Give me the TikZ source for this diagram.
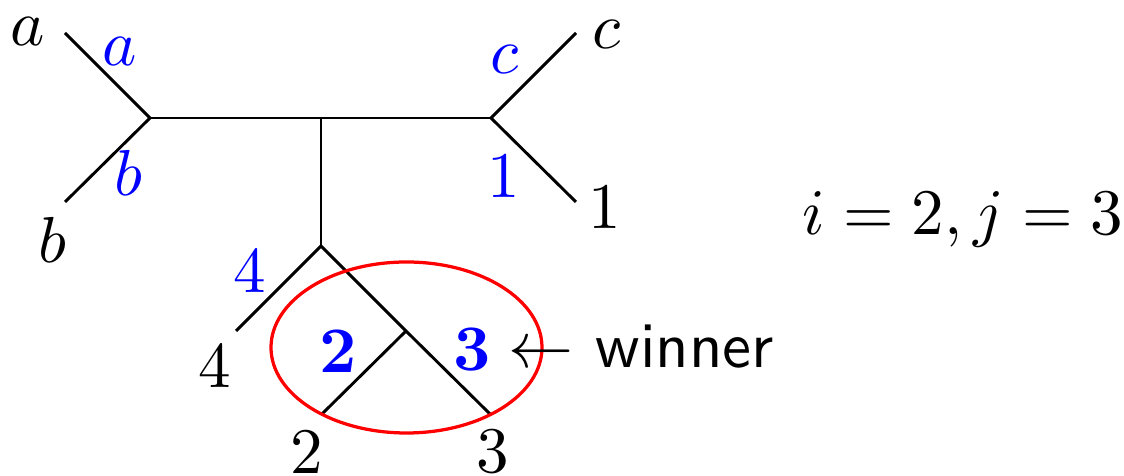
\documentclass[tikz,border=0pt]{standalone}
\begin{document}
\begin{tikzpicture}[x=0.1538pt,y=-0.1538pt,
  edge/.style={line width=0.45pt,black},
  lbl/.style={inner sep=0pt,outer sep=0pt},
  wl/.style={lbl,text=blue}]
\useasboundingbox (0,0) rectangle (1124,476);
% tree vertices
\coordinate (L) at (150,118);
\coordinate (M) at (321,118);
\coordinate (R) at (491,118);
\coordinate (D) at (321,246);
\coordinate (E) at (406,331);
\coordinate (la) at (65,33);
\coordinate (lb) at (65,202);
\coordinate (lc) at (576,33);
\coordinate (l1) at (576,202);
\coordinate (l4) at (236,331);
\coordinate (l2) at (322,414);
\coordinate (l3) at (490,414);
% edges
\draw[edge] (la) -- (L) -- (lb);
\draw[edge] (L) -- (M) -- (R);
\draw[edge] (lc) -- (R) -- (l1);
\draw[edge] (M) -- (D);
\draw[edge] (l4) -- (D) -- (E) -- (l3);
\draw[edge] (E) -- (l2);
% red ellipse
\draw[red,line width=0.5pt] (406.5,347.5) ellipse [x radius=135.5, y radius=85.5];
% leaf labels
\node[lbl] (ta) at (28,32) {$a$};
\node[lbl] (tb) at (52,240) {$b$};
\node[lbl] (tc) at (607,35) {$c$};
\node[lbl] (t1) at (605,208) {$1$};
\node[lbl] (t4) at (215,367) {$4$};
\node[lbl] (t2) at (307,453) {$2$};
\node[lbl] (t3) at (493,452) {$3$};
% blue edge labels
\node[wl] (ba) at (120,52) {$a$};
\node[wl] (bb) at (128,173) {$b$};
\node[wl] (bc) at (505,60) {$c$};
\node[wl] (b1) at (504,177) {$1$};
\node[wl] (b4) at (250,272) {$4$};
\node[wl] (b2) at (338,352) {$\mathbf{2}$};
\node[wl] (b3) at (472,350) {$\mathbf{3}$};
% winner
\node[lbl,anchor=base west] (win) at (509,368) {$\leftarrow$ \textsf{winner}};
% condition
\node[lbl,anchor=base west] (cond) at (803,235) {$i=2,j=3$};
\end{tikzpicture}
\end{document}
